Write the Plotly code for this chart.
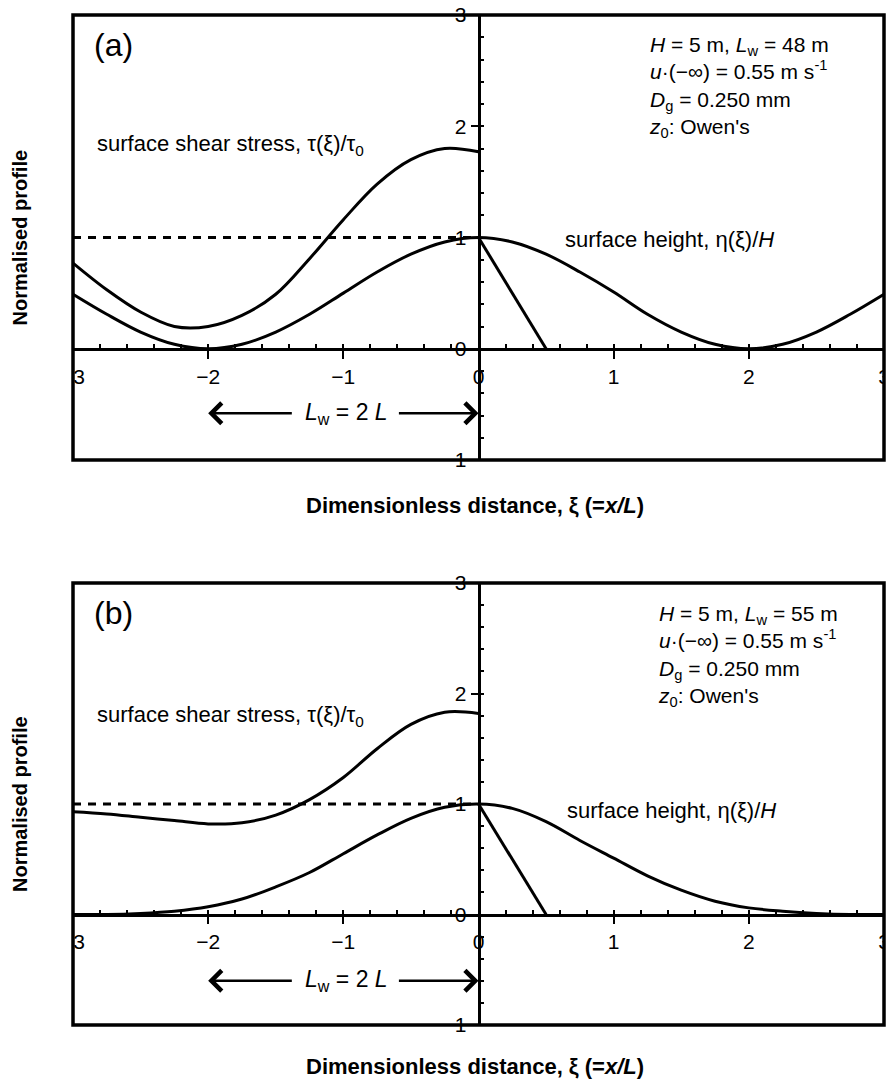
import plotly.graph_objects as go

# ---------------- data ----------------
xi_full = [-3.0, -2.75, -2.5, -2.25, -2.0, -1.75, -1.5, -1.25, -1.0, -0.75, -0.5, -0.25, 0.0,
           0.25, 0.5, 0.75, 1.0, 1.25, 1.5, 1.75, 2.0, 2.25, 2.5, 2.75, 3.0]
xi_wind = [-3.0, -2.75, -2.5, -2.25, -2.0, -1.75, -1.5, -1.25, -1.0, -0.75, -0.5, -0.25, 0.0]

height_a = [0.49, 0.31, 0.15, 0.04, 0.00, 0.04, 0.15, 0.31, 0.50, 0.69, 0.85, 0.96, 1.00,
            0.96, 0.85, 0.69, 0.51, 0.31, 0.15, 0.04, 0.00, 0.04, 0.15, 0.31, 0.49]
shear_a = [0.77, 0.53, 0.33, 0.20, 0.20, 0.30, 0.49, 0.81, 1.16, 1.48, 1.70, 1.80, 1.77]

height_b = [0.00, 0.00, 0.01, 0.03, 0.07, 0.14, 0.25, 0.38, 0.55, 0.72, 0.87, 0.97, 1.00,
            0.96, 0.84, 0.67, 0.51, 0.35, 0.22, 0.12, 0.06, 0.03, 0.01, 0.00, 0.00]
shear_b = [0.93, 0.91, 0.88, 0.85, 0.82, 0.83, 0.90, 1.04, 1.24, 1.50, 1.72, 1.83, 1.82]

ref_x = [-3.0, 0.0]          # dashed reference line tau/tau0 = 1
ref_y = [1.0, 1.0]
slip_x = [0.0, 0.5]          # slip face
slip_y = [1.0, 0.0]

panel_labels = ["(a)", "(b)"]
param_lines = [
    ["<i>H</i> = 5 m, <i>L</i><sub>w</sub> = 48 m",
     "<i>u</i>·(−∞) = 0.55 m s<sup>-1</sup>",
     "<i>D</i><sub>g</sub> = 0.250 mm",
     "<i>z</i><sub>0</sub>: Owen's"],
    ["<i>H</i> = 5 m, <i>L</i><sub>w</sub> = 55 m",
     "<i>u</i>·(−∞) = 0.55 m s<sup>-1</sup>",
     "<i>D</i><sub>g</sub> = 0.250 mm",
     "<i>z</i><sub>0</sub>: Owen's"],
]
heights = [height_a, height_b]
shears = [shear_a, shear_b]

# ---------------- layout geometry ----------------
W, H = 890, 1082
FONT = "Liberation Sans, Arial, Helvetica, sans-serif"
TXT = 22
xdom = [73 / W, 884 / W]
ydoms = [[1 - 460 / H, 1 - 15 / H], [1 - 1025 / H, 1 - 583 / H]]
title_y_px = [505, 1066]
param_top = [2.86, 2.85]
param_x = [1.25, 1.31]
shear_lab_y = [1.83, 1.80]
height_lab = [(0.625, 0.98), (0.64, 0.94)]
arrow_y = [-0.58, -0.60]

fig = go.Figure()
LW = 3

for i in range(2):
    xa = "x" if i == 0 else "x2"
    ya = "y" if i == 0 else "y2"
    fig.add_trace(go.Scatter(x=xi_full, y=heights[i], mode="lines", xaxis=xa, yaxis=ya,
                             line=dict(color="black", width=LW, shape="spline", smoothing=1.0),
                             showlegend=False, hoverinfo="skip"))
    fig.add_trace(go.Scatter(x=xi_wind, y=shears[i], mode="lines", xaxis=xa, yaxis=ya,
                             line=dict(color="black", width=LW, shape="spline", smoothing=1.0),
                             showlegend=False, hoverinfo="skip"))
    fig.add_trace(go.Scatter(x=ref_x, y=ref_y, mode="lines", xaxis=xa, yaxis=ya,
                             line=dict(color="black", width=LW, dash="8px,7px"),
                             showlegend=False, hoverinfo="skip"))
    fig.add_trace(go.Scatter(x=slip_x, y=slip_y, mode="lines", xaxis=xa, yaxis=ya,
                             line=dict(color="black", width=LW),
                             showlegend=False, hoverinfo="skip"))

layout = dict(width=W, height=H, margin=dict(l=0, r=0, t=0, b=0, autoexpand=False),
              paper_bgcolor="white", plot_bgcolor="white", showlegend=False,
              font=dict(family=FONT, color="black", size=TXT))

for i in range(2):
    sx = "xaxis" if i == 0 else "xaxis2"
    sy = "yaxis" if i == 0 else "yaxis2"
    yd = ydoms[i]
    xpos = yd[0] + 0.25 * (yd[1] - yd[0])     # paper y of value 0 on y axis
    ypos = xdom[0] + 0.5 * (xdom[1] - xdom[0])  # paper x of xi = 0
    layout[sx] = dict(domain=xdom, range=[-3, 3], anchor="free", position=xpos,
                      automargin=False,
                      tickmode="linear", tick0=0, dtick=1,
                      ticks="outside", ticklen=8, tickwidth=2, tickcolor="black",
                      showline=True, linecolor="black", linewidth=2.5,
                      showgrid=False, zeroline=False,
                      tickfont=dict(size=21, family=FONT, color="black"),
                      minor=dict(ticks="inside", ticklen=4, tickwidth=2, tickcolor="black",
                                 dtick=0.2, tick0=0, showgrid=False),
                      fixedrange=True)
    layout[sy] = dict(domain=yd, range=[-1, 3], anchor="free", position=ypos,
                      automargin=False,
                      tickmode="linear", tick0=0, dtick=1,
                      ticks="outside", ticklen=7, tickwidth=2, tickcolor="black",
                      showline=True, linecolor="black", linewidth=2.5,
                      showgrid=False, zeroline=False,
                      tickfont=dict(size=21, family=FONT, color="black"),
                      minor=dict(ticks="inside", ticklen=4, tickwidth=2, tickcolor="black",
                                 dtick=0.2, tick0=0, showgrid=False),
                      fixedrange=True)

fig.update_layout(**layout)

shapes = []
annotations = []
for i in range(2):
    xref = "x" if i == 0 else "x2"
    yref = "y" if i == 0 else "y2"
    yd = ydoms[i]
    xpos = yd[0] + 0.25 * (yd[1] - yd[0])
    # masks clipping the edge tick labels outside the frame
    shapes.append(dict(type="rect", xref="paper", yref="paper", x0=0.06, x1=xdom[0],
                       y0=xpos - 0.045, y1=xpos - 0.004, fillcolor="white",
                       line=dict(width=0), layer="above"))
    shapes.append(dict(type="rect", xref="paper", yref="paper", x0=xdom[1], x1=1.0,
                       y0=xpos - 0.045, y1=xpos - 0.004, fillcolor="white",
                       line=dict(width=0), layer="above"))
    # frame
    shapes.append(dict(type="rect", xref=xref + " domain", yref=yref + " domain",
                       x0=0, x1=1, y0=0, y1=1, line=dict(color="black", width=3.5),
                       layer="above"))

    annotations.append(dict(text=panel_labels[i], x=-2.86, y=2.73, xref=xref, yref=yref,
                            xanchor="left", yanchor="middle", showarrow=False,
                            font=dict(size=32, family=FONT)))
    annotations.append(dict(text="surface shear stress, τ(ξ)/τ<sub>0</sub>", x=-2.84,
                            y=shear_lab_y[i], xref=xref, yref=yref, xanchor="left",
                            yanchor="middle", showarrow=False, font=dict(size=TXT, family=FONT)))
    annotations.append(dict(text="surface height, η(ξ)/<i>H</i>", x=height_lab[i][0],
                            y=height_lab[i][1], xref=xref, yref=yref, xanchor="left",
                            yanchor="middle", showarrow=False, font=dict(size=TXT, family=FONT)))
    annotations.append(dict(text="<br>".join(param_lines[i]), x=param_x[i], y=param_top[i],
                            xref=xref, yref=yref, xanchor="left", yanchor="top", align="left",
                            showarrow=False, font=dict(size=21, family=FONT)))
    # L_w = 2L double arrow
    annotations.append(dict(text="<i>L</i><sub>w</sub> = 2 <i>L</i>", x=-0.98, y=arrow_y[i],
                            xref=xref, yref=yref, xanchor="center", yanchor="middle",
                            showarrow=False, font=dict(size=23, family=FONT)))
    annotations.append(dict(text="", x=-2.0, y=arrow_y[i], ax=-1.37, ay=arrow_y[i],
                            xref=xref, yref=yref, axref=xref, ayref=yref, showarrow=True,
                            arrowhead=4, arrowsize=1.6, arrowwidth=2.5, arrowcolor="black"))
    annotations.append(dict(text="", x=0.0, y=arrow_y[i], ax=-0.6, ay=arrow_y[i],
                            xref=xref, yref=yref, axref=xref, ayref=yref, showarrow=True,
                            arrowhead=4, arrowsize=1.6, arrowwidth=2.5, arrowcolor="black"))

    # axis titles
    annotations.append(dict(text="<b>Dimensionless distance, ξ (=<i>x/L</i>)</b>",
                            x=475 / W, y=1 - title_y_px[i] / H, xref="paper", yref="paper",
                            xanchor="center", yanchor="middle", showarrow=False,
                            font=dict(size=22, family=FONT)))
    annotations.append(dict(text="<b>Normalised profile</b>", x=20 / W,
                            y=(yd[0] + yd[1]) / 2, xref="paper", yref="paper",
                            xanchor="center", yanchor="middle", textangle=-90,
                            showarrow=False, font=dict(size=20, family=FONT)))

fig.update_layout(shapes=shapes, annotations=annotations)
fig.write_html("out.html", config={"displayModeBar": False},
               post_script="document.body.style.margin='0px';document.body.style.overflow='hidden';")
